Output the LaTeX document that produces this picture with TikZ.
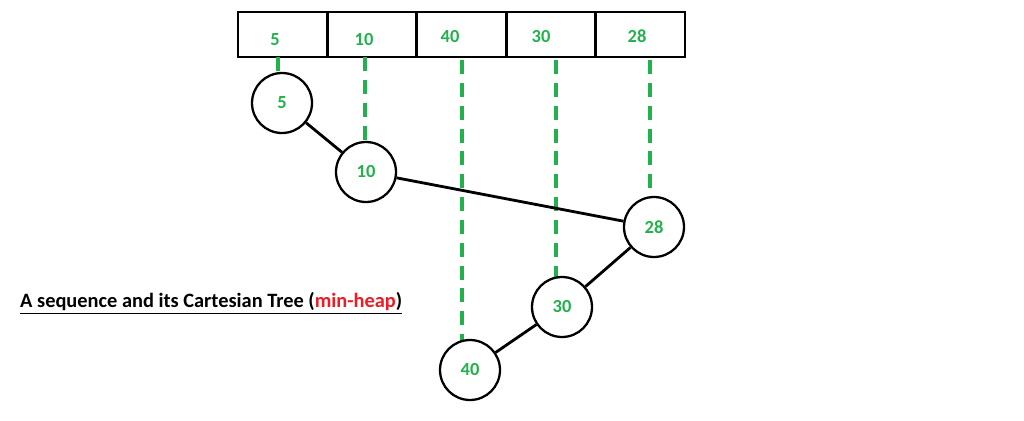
\documentclass[tikz,border=0pt]{standalone}
\usepackage{fontspec}
\setmainfont{Carlito}
\usetikzlibrary{positioning}
\definecolor{numgreen}{RGB}{34,177,76}
\definecolor{heapred}{RGB}{237,28,36}

\begin{document}
\begin{tikzpicture}[x=0.02cm,y=-0.02cm,
        cell/.style={draw, line width=1.6pt, outer sep=0pt, minimum width=1.788cm, minimum height=0.9cm, inner sep=0pt},
        key/.style={text=numgreen, font=\fontsize{10.5}{12}\selectfont\bfseries},
        vertex/.style={circle, draw, line width=1.3pt, minimum size=1.2cm, inner sep=0pt, fill=white, text=numgreen, font=\fontsize{10.5}{12}\selectfont\bfseries},
        edge/.style={line width=1.6pt},
        guide/.style={numgreen, line width=1.8pt, dash pattern=on 8pt off 5pt}]
    \useasboundingbox (0,0) rectangle (1024,420);

    % the sequence
    \node[cell] (c1) at (282.7,34.5) {};
    \node[cell, right=0pt of c1] (c2) {};
    \node[cell, right=0pt of c2] (c3) {};
    \node[cell, right=0pt of c3] (c4) {};
    \node[cell, right=0pt of c4] (c5) {};
    \node[key] (k1) at (275,40) {5};
    \node[key] (k2) at (364,40) {10};
    \node[key] (k3) at (450,37) {40};
    \node[key] (k4) at (541,37) {30};
    \node[key] (k5) at (637,36) {28};

    % the tree
    \coordinate (t1) at (278,57);
    \coordinate (t2) at (365,57);
    \coordinate (t3) at (462,60);
    \coordinate (t4) at (556,60);
    \coordinate (t5) at (650,60);
    \draw[guide] (t1) -- (278,74);
    \draw[guide] (t2) -- (365,142);
    \draw[guide] (t3) -- (462,342);
    \draw[guide] (t4) -- (556,280);
    \draw[guide] (t5) -- (650,198);

    \node[vertex] (n5) at (282,103) {5};
    \node[vertex] (n10) at (366,172) {10};
    \node[vertex] (n28) at (654,227) {28};
    \node[vertex] (n30) at (562,307) {30};
    \node[vertex] (n40) at (470,370) {40};

    \draw[edge] (n5) -- (n10);
    \draw[edge] (n10) -- (n28);
    \draw[edge] (n28) -- (n30);
    \draw[edge] (n30) -- (n40);

    \node[anchor=west, font=\fontsize{11.6}{13}\selectfont\bfseries] (cap) at (14,303)
        {\underline{A sequence and its Cartesian Tree (\textcolor{heapred}{min-heap})}};
\end{tikzpicture}
\end{document}
